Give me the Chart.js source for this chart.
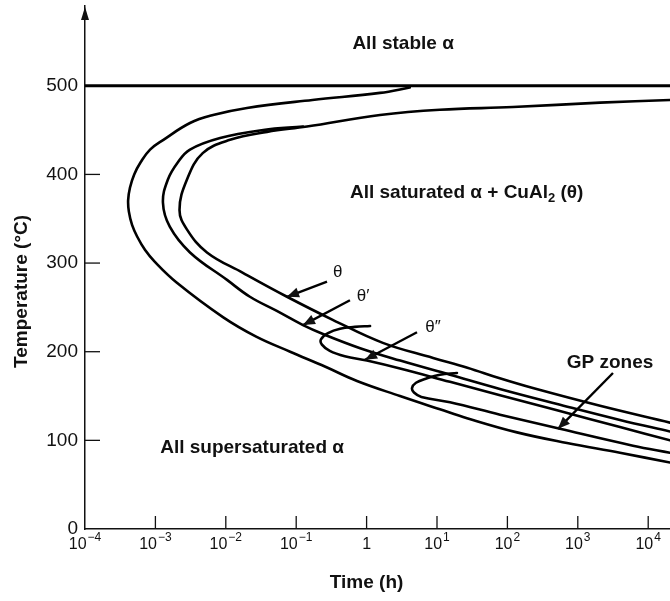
<!DOCTYPE html>
<html>
<head>
<meta charset="utf-8">
<script src="https://cdn.jsdelivr.net/npm/chart.js@4.4.0/dist/chart.umd.min.js"></script>
<style>
  html, body { margin: 0; padding: 0; background: #fff; }
  #wrap { width: 670px; height: 601px; position: relative; }
</style>
</head>
<body>
<div id="wrap"><canvas id="ttt"></canvas></div>
<script>
// axis ticks
const timeTicks = [1e-4, 1e-3, 1e-2, 1e-1, 1, 1e1, 1e2, 1e3, 1e4];
const timeTickBase = ['10', '10', '10', '10', '1', '10', '10', '10', '10'];
const timeTickExp = ['−4', '−3', '−2', '−1', '', '1', '2', '3', '4'];
const tempTicks = [0, 100, 200, 300, 400, 500];

// solvus line
const solvusTime = [1e-4, 20400];
const solvusTemp = [500, 500];

// outer curve
const curveATime = [4.1, 1.55, 0.17, 0.02, 6.6e-3, 3.1e-3, 1.3e-3, 8.4e-4, 6.2e-4, 5.0e-4, 4.35e-4, 4.1e-4, 4.2e-4, 4.66e-4, 5.5e-4, 7.1e-4, 9.9e-4, 2.0e-3, 9.1e-3, 0.027, 0.082, 0.26, 0.73, 2.98, 11.0, 26.7, 137, 703, 3970, 20400];
const curveATemp = [498, 492, 484, 475, 467, 458, 439, 428, 414, 400, 385, 371, 358, 343, 330, 315, 301, 278, 239, 217, 200, 183, 167, 150, 135, 125, 109, 97, 86, 75];

// theta' curve
const curveBTime = [0.125, 0.034, 8.3e-3, 3.1e-3, 2.1e-3, 1.5e-3, 1.28e-3, 1.6e-3, 3.1e-3, 0.0104, 0.022, 0.053, 0.125, 0.24, 0.81, 3.0, 15.3, 78, 510, 3970, 20400];
const curveBTemp = [454, 450, 441, 428, 414, 394, 368, 341, 312, 281, 262, 246, 230, 220, 204, 190, 174, 158, 141, 123, 110];

// theta curve
const curveCTime = [20400, 2070, 120, 11, 1.55, 0.142, 0.0385, 0.0115, 4.7e-3, 2.8e-3, 2.2e-3, 2.8e-3, 5.4e-3, 0.0175, 0.074, 0.33, 1.7, 8.8, 27, 78, 230, 2070, 20400];
const curveCTemp = [484, 481, 476, 473, 467, 454, 448, 439, 424, 394, 360, 338, 312, 289, 262, 236, 210, 193, 182, 170, 159, 139, 120];

// theta'' curve
const thetaDPTime = [1.12, 0.68, 0.42, 0.283, 0.225, 0.232, 0.30, 0.49, 1.01, 2.98, 15.3, 78.5, 507, 3970, 20400];
const thetaDPTemp = [229, 228, 226, 221, 214, 208, 201, 195, 190, 181, 166, 151, 134, 115, 100];

// GP zones curve
const gpTime = [19.2, 11.0, 7.2, 5.03, 4.42, 4.71, 6.0, 15.3, 78.5, 558, 6080, 20400];
const gpTemp = [176, 174, 170, 165, 159, 154, 149, 143, 129, 113, 94, 86];

// pointer arrows
const arrowLabels = ['θ', 'θ′', 'θ″', 'GP zones'];
const arrowFromTime = [0.274, 0.58, 5.2, 3160];
const arrowFromTemp = [279, 258, 222, 176];
const arrowToTime = [0.074, 0.125, 0.95, 523];
const arrowToTemp = [262, 230, 191, 113];

function pts(xs, ys) {
  return xs.map((x, i) => ({ x: x, y: ys[i] }));
}

function curve(xs, ys, w) {
  return {
    data: pts(xs, ys),
    borderColor: '#000',
    borderWidth: w || 2.6,
    pointRadius: 0,
    showLine: true,
    tension: 0.4,
    borderCapStyle: 'round',
    borderJoinStyle: 'round'
  };
}

let datasets = [
  curve(solvusTime, solvusTemp, 3),
  curve(curveATime, curveATemp),
  curve(curveBTime, curveBTemp),
  curve(curveCTime, curveCTemp),
  curve(thetaDPTime, thetaDPTemp),
  curve(gpTime, gpTemp)
];
arrowLabels.forEach((lab, i) => {
  let d = curve([arrowFromTime[i], arrowToTime[i]], [arrowFromTemp[i], arrowToTemp[i]], 2.4);
  d.tension = 0;
  d.borderCapStyle = 'butt';
  datasets.push(d);
});

// text placed at data coordinates
const textNotes = [
  { text: 'All stable α', t: 3.3, T: 547, bold: true },
  { text: 'All supersaturated α', t: 0.0236, T: 92, bold: true },
  { text: 'GP zones', t: 2870, T: 188, bold: true },
  { text: 'θ', t: 0.39, T: 290, bold: false },
  { text: 'θ′', t: 0.89, T: 262, bold: false },
  { text: 'θ″', t: 8.8, T: 227, bold: false }
];

const FONT = '"Liberation Sans", Arial, sans-serif';

const decoPlugin = {
  id: 'deco',
  afterDatasetsDraw(chart) {
    const ctx = chart.ctx, xs = chart.scales.x, ys = chart.scales.y, area = chart.chartArea;
    ctx.save();
    ctx.strokeStyle = '#111';
    ctx.fillStyle = '#111';
    ctx.lineWidth = 1.3;

    // inner tick marks
    tempTicks.forEach(v => {
      if (v === 0 || v === 500) return;
      const y = ys.getPixelForValue(v);
      ctx.beginPath(); ctx.moveTo(area.left, y); ctx.lineTo(area.left + 15, y); ctx.stroke();
    });
    timeTicks.forEach((t, i) => {
      if (i === 0) return;
      const x = xs.getPixelForValue(t);
      ctx.beginPath(); ctx.moveTo(x, area.bottom); ctx.lineTo(x, area.bottom - 13); ctx.stroke();
    });

    // arrow on top of the temperature axis
    ctx.beginPath();
    ctx.moveTo(area.left, area.top + 1);
    ctx.lineTo(area.left - 4, area.top + 14);
    ctx.lineTo(area.left + 4, area.top + 14);
    ctx.closePath(); ctx.fill();

    // arrowheads of the pointers
    arrowLabels.forEach((lab, i) => {
      const x0 = xs.getPixelForValue(arrowFromTime[i]), y0 = ys.getPixelForValue(arrowFromTemp[i]);
      const x1 = xs.getPixelForValue(arrowToTime[i]), y1 = ys.getPixelForValue(arrowToTemp[i]);
      const a = Math.atan2(y1 - y0, x1 - x0);
      const L = 12, W = 5;
      ctx.beginPath();
      ctx.moveTo(x1, y1);
      ctx.lineTo(x1 - L * Math.cos(a) + W * Math.sin(a), y1 - L * Math.sin(a) - W * Math.cos(a));
      ctx.lineTo(x1 - L * Math.cos(a) - W * Math.sin(a), y1 - L * Math.sin(a) + W * Math.cos(a));
      ctx.closePath(); ctx.fill();
    });

    // time tick labels with exponents
    ctx.textBaseline = 'alphabetic';
    ctx.textAlign = 'left';
    timeTicks.forEach((t, i) => {
      const x = xs.getPixelForValue(t);
      ctx.font = '16px ' + FONT;
      const wb = ctx.measureText(timeTickBase[i]).width;
      ctx.font = '12px ' + FONT;
      const we = timeTickExp[i] ? ctx.measureText(timeTickExp[i]).width + 1 : 0;
      const x0 = x - (wb + we) / 2;
      ctx.font = '16px ' + FONT;
      ctx.fillText(timeTickBase[i], x0, area.bottom + 20);
      if (timeTickExp[i]) {
        ctx.font = '12px ' + FONT;
        ctx.fillText(timeTickExp[i], x0 + wb + 1, area.bottom + 12);
      }
    });

    // region and phase labels
    ctx.textAlign = 'center';
    ctx.textBaseline = 'middle';
    textNotes.forEach(n => {
      ctx.font = (n.bold ? 'bold 19px ' : '17px ') + FONT;
      ctx.fillText(n.text, xs.getPixelForValue(n.t), ys.getPixelForValue(n.T));
    });

    // label with a subscript
    ctx.textAlign = 'left';
    let lx = xs.getPixelForValue(0.58), ly = ys.getPixelForValue(379);
    const parts = [['All saturated α + CuAl', 19, 0], ['2', 13, 5], [' (θ)', 19, 0]];
    parts.forEach(p => {
      ctx.font = 'bold ' + p[1] + 'px ' + FONT;
      ctx.fillText(p[0], lx, ly + p[2]);
      lx += ctx.measureText(p[0]).width;
    });

    // axis titles
    ctx.font = 'bold 19px ' + FONT;
    ctx.textAlign = 'center';
    ctx.fillText('Time (h)', (xs.getPixelForValue(1)), 583);
    ctx.translate(22, ys.getPixelForValue(268));
    ctx.rotate(-Math.PI / 2);
    ctx.fillText('Temperature (°C)', 0, 0);
    ctx.restore();
  }
};

new Chart(document.getElementById('ttt'), {
  type: 'scatter',
  data: { datasets: datasets },
  options: {
    responsive: true,
    maintainAspectRatio: false,
    animation: false,
    devicePixelRatio: 1,
    layout: { padding: { top: 6, right: 0, left: 0, bottom: 0 } },
    plugins: { legend: { display: false }, tooltip: { enabled: false } },
    scales: {
      x: {
        type: 'logarithmic',
        min: 1e-4,
        max: 20400,
        afterBuildTicks: s => { s.ticks = timeTicks.map(v => ({ value: v })); },
        afterFit: s => { s.height = 72; s.paddingLeft = 0; s.paddingRight = 0; },
        ticks: { display: false },
        grid: { drawOnChartArea: false, drawTicks: false },
        border: { display: true, color: '#111', width: 1.5 }
      },
      y: {
        type: 'linear',
        min: 0,
        max: 590,
        afterBuildTicks: s => { s.ticks = tempTicks.map(v => ({ value: v })); },
        afterFit: s => { s.width = 85; s.paddingTop = 0; s.paddingBottom = 0; },
        ticks: { color: '#111', padding: 7, font: { family: FONT, size: 19 } },
        grid: { drawOnChartArea: false, drawTicks: false },
        border: { display: true, color: '#111', width: 1.5 }
      }
    }
  },
  plugins: [decoPlugin]
});
</script>
</body>
</html>
